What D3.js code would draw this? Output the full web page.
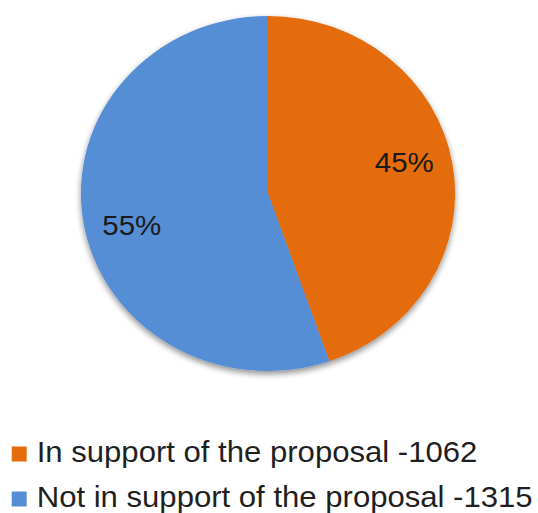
<!DOCTYPE html>
<html>
<head>
<meta charset="utf-8">
<script src="https://cdn.jsdelivr.net/npm/d3@7/dist/d3.min.js"></script>
<style>
  html, body { margin: 0; padding: 0; background: #ffffff; }
  svg { display: block; font-family: "Liberation Sans", Arial, sans-serif; }
</style>
</head>
<body>
<div id="chart"></div>
<script>
// ---- data ----
const categories = ["In support of the proposal", "Not in support of the proposal"];
const counts = [1062, 1315];
const percentLabels = ["45%", "55%"];
const colors = ["#E46C0A", "#558ED5"];

// ---- layout ----
const W = 538, H = 513;
const sx = 1.054;               // slight horizontal stretch of the original picture
const R = 177.5;
const cx = 268 / sx, cy = 193.5;

const svg = d3.select("#chart").append("svg")
  .attr("width", W).attr("height", H);

const defs = svg.append("defs");
const f = defs.append("filter").attr("id", "shadow")
  .attr("x", "-10%").attr("y", "-10%").attr("width", "120%").attr("height", "125%");
f.append("feGaussianBlur").attr("in", "SourceAlpha").attr("stdDeviation", 3).attr("result", "b");
f.append("feOffset").attr("in", "b").attr("dx", 0).attr("dy", 3).attr("result", "o");
f.append("feComponentTransfer").attr("in", "o").attr("result", "oa")
  .append("feFuncA").attr("type", "linear").attr("slope", 0.45);
const fm = f.append("feMerge");
fm.append("feMergeNode").attr("in", "oa");
fm.append("feMergeNode").attr("in", "SourceGraphic");

const root = svg.append("g").attr("transform", `scale(${sx},1)`);

const pie = d3.pie().sort(null).startAngle(0).endAngle(2 * Math.PI);
const arcs = pie(counts);
const arc = d3.arc().innerRadius(0).outerRadius(R);

const pieG = root.append("g").attr("transform", `translate(${cx},${cy})`);
pieG.append("g").attr("filter", "url(#shadow)")
  .selectAll("path").data(arcs).join("path")
  .attr("d", arc)
  .attr("fill", (d, i) => colors[i]);

// percentage labels
const labelR = 133, shift = -4 * Math.PI / 180, fsLab = 28;
pieG.selectAll("text.pct").data(arcs).join("text")
  .attr("class", "pct")
  .attr("x", d => labelR * Math.sin((d.startAngle + d.endAngle) / 2 + shift))
  .attr("y", d => -labelR * Math.cos((d.startAngle + d.endAngle) / 2 + shift) + fsLab * 0.358)
  .attr("text-anchor", "middle")
  .attr("font-size", fsLab)
  .attr("fill", "#1a1a1a")
  .text((d, i) => percentLabels[i]);

// legend
const fsLeg = 29.5;
const leg = root.append("g");
const items = leg.selectAll("g").data(categories).join("g")
  .attr("transform", (d, i) => `translate(${11.7 / sx},${461.5 + i * 45})`);
items.append("rect")
  .attr("x", 0).attr("y", -15).attr("width", 15 / sx).attr("height", 15)
  .attr("fill", (d, i) => colors[i]);
items.append("text")
  .attr("x", (36.7 - 11.7) / sx).attr("y", 0)
  .attr("font-size", fsLeg)
  .attr("fill", "#1f1f1f")
  .text((d, i) => `${d} -${counts[i]}`);
</script>
</body>
</html>
